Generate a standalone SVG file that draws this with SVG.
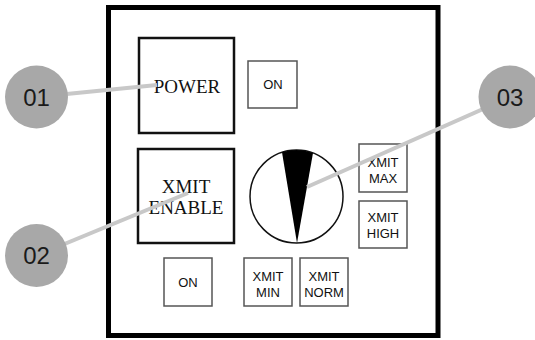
<svg xmlns="http://www.w3.org/2000/svg" width="535" height="340" viewBox="0 0 535 340">
<style>
.big{fill:#fff;stroke:#111;stroke-width:2.5}
.btn{fill:#fff;stroke:#555;stroke-width:1.5}
.serif{font-family:"Liberation Serif","Times New Roman",serif;font-size:19px;fill:#111;text-anchor:middle}
.sans{font-family:"Liberation Sans",Arial,sans-serif;font-size:13px;fill:#111;text-anchor:middle}
.conn{stroke:#c8c8c8;stroke-width:4;stroke-linecap:butt;fill:none}
.callout circle{fill:#a8a8a8}
.callout text{font-family:"Liberation Sans",Arial,sans-serif;font-size:24px;fill:#1a1a1a;text-anchor:middle}
</style>
<rect width="535" height="340" fill="#fff"/>
<g id="panel">
<rect x="108.5" y="7.5" width="329.5" height="328" fill="#fff" stroke="#000" stroke-width="5"/>
</g>
<g id="power">
<rect class="big" x="139" y="38" width="95" height="95"/>
<text class="serif" x="187" y="92.5">POWER</text>
</g>
<g id="power-on">
<rect class="btn" x="248" y="61" width="49" height="47"/>
<text class="sans" x="273" y="89.3">ON</text>
</g>
<g id="xmit-enable">
<rect class="big" x="138" y="149" width="96" height="94"/>
<text class="serif" x="186" y="192.7">XMIT</text>
<text class="serif" x="186" y="214.3">ENABLE</text>
</g>
<g id="enable-on">
<rect class="btn" x="164" y="258" width="48" height="48"/>
<text class="sans" x="188" y="287.3">ON</text>
</g>
<g id="xmit-min">
<rect class="btn" x="244" y="258" width="48" height="48"/>
<text class="sans" x="268" y="280.5">XMIT</text>
<text class="sans" x="268" y="296.5">MIN</text>
</g>
<g id="xmit-norm">
<rect class="btn" x="300" y="258" width="48" height="48"/>
<text class="sans" x="324" y="280.5">XMIT</text>
<text class="sans" x="324" y="296.5">NORM</text>
</g>
<g id="xmit-max">
<rect class="btn" x="359" y="144" width="48" height="48"/>
<text class="sans" x="383" y="166.7">XMIT</text>
<text class="sans" x="383" y="182.7">MAX</text>
</g>
<g id="xmit-high">
<rect class="btn" x="359" y="201" width="48" height="47"/>
<text class="sans" x="383" y="221.7">XMIT</text>
<text class="sans" x="383" y="237.7">HIGH</text>
</g>
<g id="dial">
<circle cx="296.5" cy="196.5" r="46.5" fill="#fff" stroke="#111" stroke-width="1.5"/>
<path d="M297,243 L282,152.3 A46.5 46.5 0 0 1 313,153 Z" fill="#000"/>
</g>
<g id="connectors">
<line class="conn" x1="36.5" y1="97" x2="157" y2="85"/>
<line class="conn" x1="36.5" y1="255.5" x2="188" y2="193"/>
<line class="conn" x1="510" y1="97" x2="307" y2="187"/>
</g>
<g id="callout-01" class="callout">
<circle cx="36.5" cy="97" r="31.5"/>
<text x="36.5" y="105.5">01</text>
</g>
<g id="callout-02" class="callout">
<circle cx="36.5" cy="255.5" r="31.5"/>
<text x="36.5" y="264">02</text>
</g>
<g id="callout-03" class="callout">
<circle cx="510" cy="97" r="31.5"/>
<text x="510" y="105.5">03</text>
</g>
</svg>
